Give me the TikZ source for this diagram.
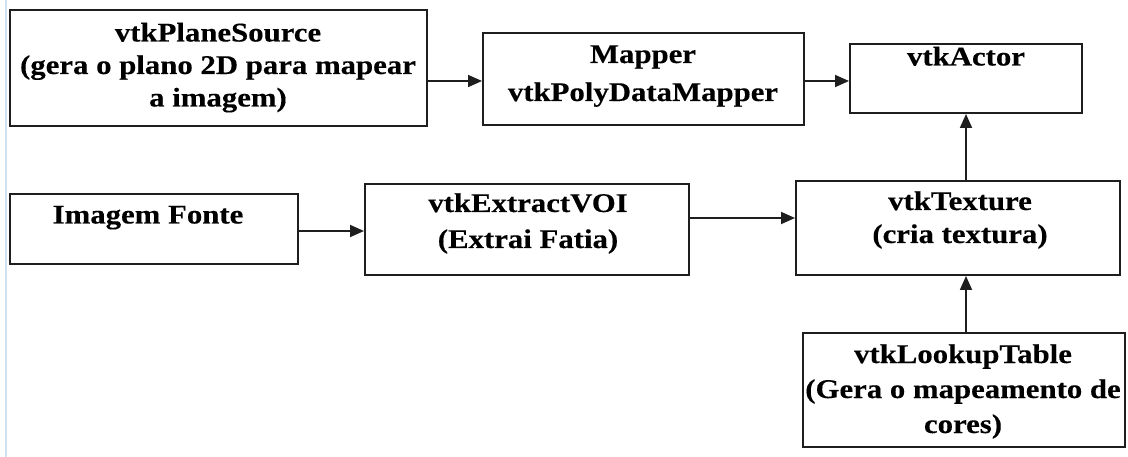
\documentclass[tikz,border=0pt]{standalone}
\usepackage{fontspec}
\setmainfont[FakeStretch=1.14,BoldFeatures={FakeBold=0.3}]{Liberation Serif}
\usetikzlibrary{arrows.meta}
\definecolor{edgeblue}{RGB}{205,225,240}
\definecolor{ink}{RGB}{30,30,30}
\begin{document}
\begin{tikzpicture}[x=1pt,y=-1pt,
  box/.style={draw=ink,line width=2pt,inner sep=0pt},
  lbl/.style={align=center,inner sep=0pt,anchor=base,text=black,font=\bfseries\fontsize{27}{#1}\selectfont},
  lbl/.default=33,
  arr/.style={draw=ink,line width=1.8pt,-{Triangle[length=14pt,width=12pt]}}]
\useasboundingbox (0,0) rectangle (1128,457);
\fill[white] (0,0) rectangle (1128,457);
\draw[edgeblue,line width=1.5pt] (6,0) -- (6,457);
% boxes
\node[box,minimum width=417pt,minimum height=116pt] (ps) at (218.5,68) {};
\node[box,minimum width=321pt,minimum height=92pt] (map) at (643.5,79) {};
\node[box,minimum width=232pt,minimum height=69pt] (act) at (966,78.5) {};
\node[box,minimum width=288pt,minimum height=70pt] (img) at (154,229) {};
\node[box,minimum width=324pt,minimum height=91pt] (ext) at (527,229.5) {};
\node[box,minimum width=324pt,minimum height=94pt] (tex) at (958,228) {};
\node[box,minimum width=322pt,minimum height=114pt] (lut) at (964,390) {};
% labels (anchored at the baseline of the last line)
\node[lbl=32.5] (tps) at (218,106.5) {vtkPlaneSource\\(gera o plano 2D para mapear\\a imagem)};
\node[lbl=38] (tmap) at (643,101) {Mapper\\vtkPolyDataMapper};
\node[lbl] (tact) at (966,65.5) {vtkActor};
\node[lbl] (timg) at (148,223.5) {Imagem Fonte};
\node[lbl=36] (text) at (528,248) {vtkExtractVOI\\(Extrai Fatia)};
\node[lbl=33] (ttex) at (960,243) {vtkTexture\\(cria textura)};
\node[lbl=35] (tlut) at (963,433) {vtkLookupTable\\(Gera o mapeamento de\\cores)};
% connectors
\coordinate (a1) at ([yshift=-13pt]ps.east);
\draw[arr] (a1) -- (map.west |- a1);
\coordinate (a2) at ([yshift=-2pt]map.east);
\draw[arr] (a2) -- (act.west |- a2);
\coordinate (a3) at ([yshift=-2pt]img.east);
\draw[arr] (a3) -- (ext.west |- a3);
\coordinate (a4) at ([yshift=11.5pt]ext.east);
\draw[arr] (a4) -- (tex.west |- a4);
\draw[arr] (act.south |- tex.north) -- (act.south);
\draw[arr] (act.south |- lut.north) -- (act.south |- tex.south);
\end{tikzpicture}
\end{document}
